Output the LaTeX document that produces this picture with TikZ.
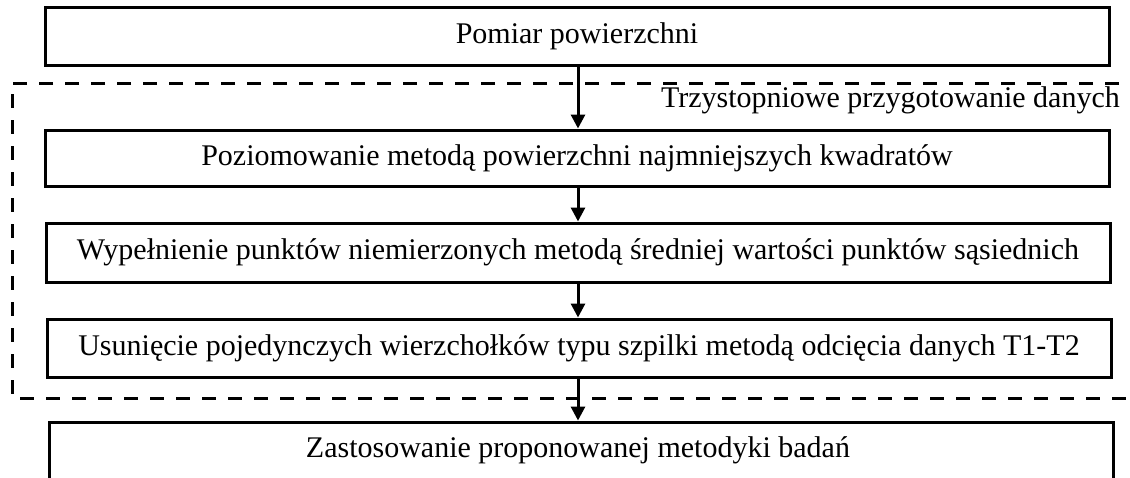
\documentclass[tikz,border=0pt]{standalone}
\usepackage{fontspec}
\setmainfont{Liberation Serif}
\usetikzlibrary{arrows.meta}
\tikzset{
  txt/.style={font=\fontsize{30}{34}\selectfont},
  stepbox/.style={draw=black, line width=3pt, minimum width=1064pt, minimum height=58pt, inner sep=0pt, align=center, txt},
  flow/.style={draw=black, line width=3pt, -{Triangle[length=14pt,width=14pt]}},
  groupbox/.style={draw=black, line width=3pt, dash pattern=on 14pt off 12pt}
}
\begin{document}
\begin{tikzpicture}[x=1pt,y=-1pt]
\useasboundingbox (0,0) rectangle (1130,477);
\clip (0,0) rectangle (1130,477);
\draw[groupbox] (1145,83) -- (12,83) -- (12,398) -- (1145,398);
\node[anchor=base east, txt, inner sep=0pt] (lbl) at (1120,107) {Trzystopniowe przygotowanie danych};
\node[stepbox] (b1) at (577,36.5) {\raisebox{-2pt}{Pomiar powierzchni}};
\node[stepbox, minimum height=56pt] (b2) at (577,158) {\raisebox{-2pt}{Poziomowanie metodą powierzchni najmniejszych kwadratów}};
\node[stepbox, minimum height=59pt] (b3) at (578,252.5) {\raisebox{-2pt}{Wypełnienie punktów niemierzonych metodą średniej wartości punktów sąsiednich}};
\node[stepbox] (b4) at (579,348) {\raisebox{-2pt}{Usunięcie pojedynczych wierzchołków typu szpilki metodą odcięcia danych T1-T2}};
\node[stepbox, minimum height=100pt] (b5) at (581,472) {};
\node[txt, inner sep=0pt, anchor=base] (t5) at (578,457) {Zastosowanie proponowanej metodyki badań};
\draw[flow] (b1.south -| 578,0) -- (b2.north -| 578,0);
\draw[flow] (b2.south -| 578,0) -- (b3.north -| 578,0);
\draw[flow] (b3.south -| 578,0) -- (b4.north -| 578,0);
\draw[flow] (b4.south -| 578,0) -- (b5.north -| 578,0);
\end{tikzpicture}
\end{document}
